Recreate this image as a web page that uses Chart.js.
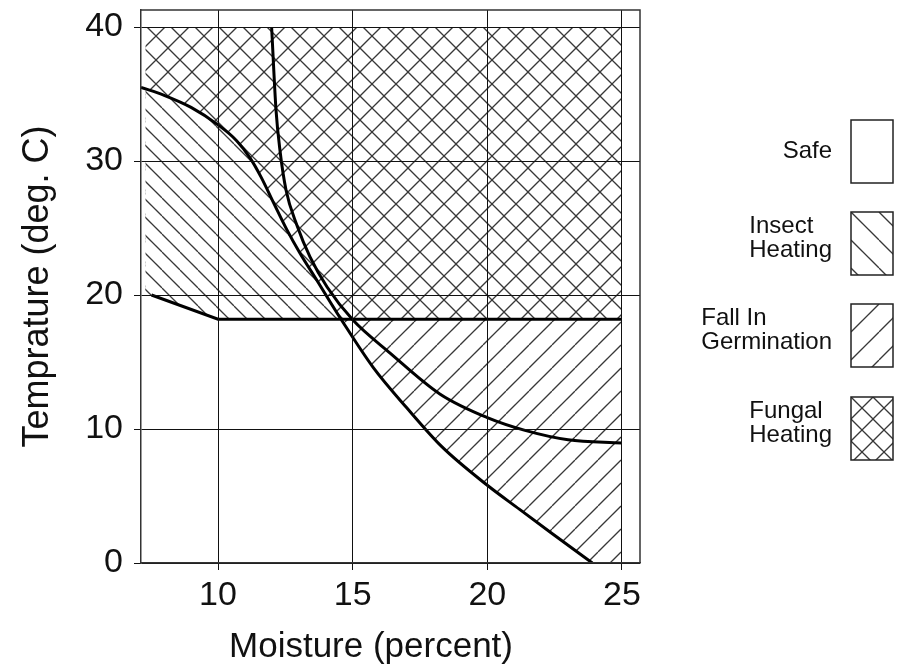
<!DOCTYPE html>
<html><head><meta charset="utf-8">
<script src="https://cdn.jsdelivr.net/npm/chart.js@4.4.1/dist/chart.umd.min.js"></script>
<style>html,body{margin:0;padding:0;background:#fff;} #wrap{width:904px;height:666px;}</style>
</head><body><div id="wrap"><canvas id="c" width="904" height="666"></canvas></div>
<script>
// ---- axis ticks / ranges ----
const xTickValues = [10, 15, 20, 25];
const yTickValues = [0, 10, 20, 30, 40];
const xMin = 7.14, xMax = 25.67, yMin = 0, yMax = 41.27;

// ---- boundary curves ----
const curveAX = [7.14, 8.0, 9.0, 10.0, 10.7, 11.2, 11.6, 12.06, 12.55, 13.05, 13.67, 14.16, 14.55, 15.76, 17.0, 18.3, 20.0, 21.2, 22.34, 23.9];
const curveAY = [35.5, 34.9, 34.0, 32.7, 31.5, 30.2, 28.8, 26.9, 24.9, 23.1, 21.1, 19.5, 18.25, 14.6, 11.6, 8.7, 5.8, 4.0, 2.3, 0];
const curveBX = [11.99, 12.154, 12.3, 12.525, 12.93, 13.416, 14.05, 15.01, 16.39, 18.25, 20.0, 21.4, 23.0, 25.0];
const curveBY = [40, 33.8, 30.8, 27.84, 25.2, 22.84, 20.6, 18.13, 15.67, 12.6, 10.85, 9.9, 9.2, 8.96];
const lineCX = [7.53, 10.0, 25.0];
const lineCY = [20.0, 18.2, 18.2];

// ---- outlines of the hatched areas ----
const hatchTopX = [7.3, 25.0];
const hatchTopY = [40, 40];
const hatchCX = [7.3, 10.0, 25.0];
const hatchCY = [20.15, 18.2, 18.2];
const hatchAEndX = [25.0];
const hatchAEndY = [-1.6];

// ---- legend ----
const legendLabels = [["Safe"], ["Insect", "Heating"], ["Fall In", "Germination"], ["Fungal", "Heating"]];

const xTitle = "Moisture (percent)";
const yTitle = "Temprature (deg. C)";

const FONT = '"Liberation Sans", Arial, Helvetica, sans-serif';
const pts = (xs, ys) => xs.map((x, i) => ({x: x, y: ys[i]}));

const canvas = document.getElementById('c');
const ctx0 = canvas.getContext('2d');
const HATCH = '#383838';
function hatch(d, dirs, bg, lw) {
  const c = document.createElement('canvas');
  c.width = d; c.height = d;
  const g = c.getContext('2d');
  if (bg) { g.fillStyle = bg; g.fillRect(0, 0, d, d); }
  g.strokeStyle = HATCH; g.lineWidth = lw || 1.3;
  for (const dir of dirs) {
    for (const off of [-d, 0, d]) {
      g.beginPath();
      if (dir === 'b') { g.moveTo(off, 0); g.lineTo(off + d, d); }
      else { g.moveTo(off, d); g.lineTo(off + d, 0); }
      g.stroke();
    }
  }
  return ctx0.createPattern(c, 'repeat');
}
const insectPat = hatch(18, ['b'], '#ffffff');
const germPat = hatch(23, ['f'], null);
const fungalPat = hatch(24, ['b', 'f'], null);
const legendPats = [null, hatch(28, ['b'], '#ffffff'), hatch(28, ['f'], '#ffffff'), hatch(22, ['b', 'f'], '#ffffff')];
const NONE = 'rgba(0,0,0,0)';

const hidden = {borderWidth: 0, pointRadius: 0, backgroundColor: NONE, borderColor: NONE};
const datasets = [
  {label: 'A', data: pts(curveAX, curveAY), borderColor: '#000', borderWidth: 3, pointRadius: 0, fill: false, cubicInterpolationMode: 'monotone'},
  {label: 'B', data: pts(curveBX, curveBY), borderColor: '#000', borderWidth: 3, pointRadius: 0, fill: false, cubicInterpolationMode: 'monotone'},
  {label: 'C', data: pts(lineCX, lineCY), borderColor: '#000', borderWidth: 3, pointRadius: 0, fill: false, tension: 0},
  Object.assign({label: 'Insect Heating', data: pts(hatchCX, hatchCY), fill: {target: 4, above: NONE, below: insectPat}, tension: 0}, hidden),
  Object.assign({label: 'Fall In Germination', data: pts(curveAX.concat(hatchAEndX), curveAY.concat(hatchAEndY)), fill: {target: 5, above: NONE, below: germPat}, cubicInterpolationMode: 'monotone'}, hidden),
  Object.assign({label: 'Fungal Heating', data: pts(hatchCX, hatchCY), fill: {target: 6, above: fungalPat, below: fungalPat}, tension: 0}, hidden),
  Object.assign({label: 'top', data: pts(hatchTopX, hatchTopY), fill: false, tension: 0}, hidden)
];

const framePlugin = {
  id: 'frame',
  afterDraw(chart) {
    const ctx = chart.ctx, a = chart.chartArea;
    ctx.save();
    ctx.strokeStyle = '#333'; ctx.lineWidth = 1.5;
    ctx.beginPath();
    ctx.moveTo(a.left, a.top); ctx.lineTo(a.right, a.top); ctx.lineTo(a.right, a.bottom);
    ctx.stroke();
    // x-axis title (centred a little left of the plot centre, as in the original)
    ctx.font = '35px ' + FONT;
    ctx.fillStyle = '#111'; ctx.textAlign = 'center'; ctx.textBaseline = 'alphabetic';
    ctx.fillText(chart.options.scales.x.title.text, (102 + a.right) / 2, 657);
    // legend
    const boxX = 851, boxW = 42, boxH = 63, tops = [120, 212, 304, 397], textRight = 832;
    ctx.font = '24px ' + FONT;
    legendLabels.forEach((lines, i) => {
      const top = tops[i];
      const pat = legendPats[i];
      ctx.fillStyle = '#fff';
      ctx.fillRect(boxX, top, boxW, boxH);
      if (pat) {
        pat.setTransform(new DOMMatrix([1, 0, 0, 1, boxX, top]));
        ctx.fillStyle = pat;
        ctx.fillRect(boxX, top, boxW, boxH);
      }
      ctx.strokeStyle = '#222'; ctx.lineWidth = 1.5;
      ctx.strokeRect(boxX, top, boxW, boxH);
      const w = Math.max(...lines.map(l => ctx.measureText(l).width));
      const left = textRight - w;
      ctx.fillStyle = '#111'; ctx.textAlign = 'left'; ctx.textBaseline = 'alphabetic';
      const base = lines.length === 1 ? top + 38 : top + 21;
      lines.forEach((l, j) => ctx.fillText(l, left, base + j * 24));
    });
    ctx.restore();
  }
};

new Chart(canvas, {
  type: 'line',
  data: {datasets: datasets},
  options: {
    responsive: false,
    animation: false,
    layout: {autoPadding: false, padding: {left: 0, right: 264, top: 10, bottom: 0}},
    plugins: {
      legend: {display: false},
      tooltip: {enabled: false}
    },
    scales: {
      x: {
        type: 'linear', min: xMin, max: xMax,
        afterBuildTicks: s => { s.ticks = xTickValues.map(v => ({value: v})); },
        afterFit: s => { s.height = 103; s.paddingLeft = 0; s.paddingRight = 0; },
        title: {display: false, text: xTitle},
        ticks: {color: '#111', font: {family: FONT, size: 34}, padding: 5, maxRotation: 0},
        grid: {color: '#111', lineWidth: 1, tickLength: 7, z: 1},
        border: {display: true, color: '#333', width: 1.5, z: 2}
      },
      y: {
        type: 'linear', min: yMin, max: yMax,
        afterBuildTicks: s => { s.ticks = yTickValues.map(v => ({value: v})); },
        afterFit: s => { s.width = 141; s.paddingTop = 0; s.paddingBottom = 0; },
        ticks: {color: '#111', font: {family: FONT, size: 34}, padding: 11},
        grid: {color: '#111', lineWidth: 1, tickLength: 7, z: 1},
        border: {display: true, color: '#333', width: 1.5, z: 2},
        title: {display: true, text: yTitle, color: '#111', font: {family: FONT, size: 36}, padding: {top: 16.9, bottom: 0}}
      }
    }
  },
  plugins: [framePlugin]
});
</script>
</body></html>
